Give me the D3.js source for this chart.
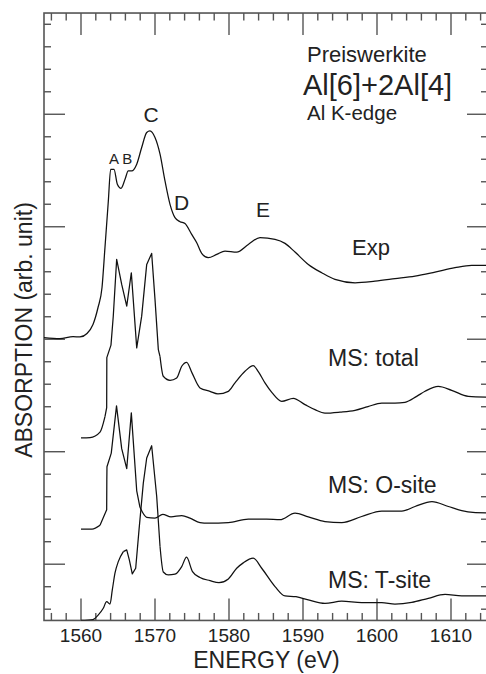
<!DOCTYPE html>
<html>
<head>
<meta charset="utf-8">
<script src="https://cdn.jsdelivr.net/npm/d3@7"></script>
<style>
  html, body { margin: 0; padding: 0; background: #fff; }
  svg text { font-family: "Liberation Sans", Arial, Helvetica, sans-serif; fill: #222; }
</style>
</head>
<body>
<svg id="chart" width="486" height="674"></svg>
<script>
// ---- data (energy in eV, absorption in arb. units; curves stacked as drawn) ----
const expEnergy = [1555.0,1557.16,1558.92,1559.86,1560.81,1561.62,1562.30,1562.84,1563.24,1563.69,1564.01,1564.46,1564.91,1565.41,1565.95,1566.39,1566.85,1567.53,1568.20,1568.88,1569.32,1570.00,1570.68,1571.35,1572.03,1572.70,1573.38,1574.05,1574.96,1575.64,1576.31,1577.20,1578.34,1579.46,1581.04,1582.61,1584.19,1586.22,1587.57,1588.92,1590.72,1592.53,1594.32,1597.03,1599.73,1602.43,1605.14,1607.84,1610.54,1612.80,1615.0];
const expValue  = [2.015,2.006,2.024,2.020,2.051,2.131,2.282,2.460,2.817,3.226,3.511,3.511,3.378,3.342,3.422,3.496,3.496,3.556,3.704,3.838,3.852,3.793,3.645,3.407,3.199,3.081,3.045,3.028,2.932,2.858,2.763,2.725,2.754,2.784,2.775,2.843,2.903,2.888,2.852,2.775,2.665,2.591,2.532,2.502,2.516,2.538,2.561,2.597,2.636,2.656,2.656];

const totalEnergy = [1560.00,1561.22,1562.57,1563.24,1563.47,1563.49,1564.05,1564.36,1564.82,1565.50,1566.18,1566.80,1567.53,1568.20,1568.88,1569.55,1570.00,1570.45,1570.68,1571.12,1572.03,1572.93,1573.61,1574.28,1575.00,1576.08,1577.43,1578.51,1579.91,1580.81,1582.16,1583.28,1583.96,1584.86,1585.81,1587.12,1588.69,1590.27,1591.62,1592.97,1595.00,1597.03,1598.78,1600.64,1602.43,1603.78,1605.36,1606.49,1608.28,1610.09,1612.34,1615.00];
const totalValue  = [1.122,1.125,1.174,1.312,1.392,1.837,1.948,2.205,2.710,2.487,2.294,2.591,1.923,2.205,2.665,2.763,2.354,1.908,1.846,1.671,1.635,1.656,1.760,1.795,1.701,1.567,1.537,1.514,1.537,1.612,1.715,1.766,1.712,1.612,1.525,1.448,1.475,1.419,1.374,1.343,1.352,1.368,1.401,1.432,1.432,1.439,1.492,1.537,1.581,1.546,1.492,1.485];

const oEnergy = [1560.00,1561.49,1562.57,1563.47,1563.49,1563.51,1564.09,1564.80,1565.50,1566.18,1566.80,1567.53,1567.97,1568.88,1570.00,1571.05,1572.16,1573.61,1574.73,1576.08,1577.20,1579.91,1582.61,1585.09,1586.89,1588.92,1590.72,1592.97,1595.23,1597.93,1600.64,1603.34,1605.14,1607.43,1609.64,1611.45,1612.97,1615.00];
const oValue  = [0.312,0.312,0.346,0.484,0.751,0.866,0.988,1.407,1.027,0.849,1.345,0.653,0.506,0.417,0.410,0.443,0.421,0.432,0.410,0.370,0.365,0.370,0.401,0.401,0.396,0.454,0.421,0.379,0.370,0.424,0.472,0.472,0.513,0.557,0.513,0.477,0.461,0.457];

const tEnergy = [1560.00,1561.62,1562.34,1563.01,1563.47,1563.92,1564.23,1564.59,1565.04,1565.72,1566.18,1566.53,1566.93,1567.39,1567.84,1568.42,1568.88,1569.55,1570.23,1570.68,1571.12,1571.80,1572.70,1573.61,1574.26,1575.07,1576.08,1577.43,1578.65,1579.91,1581.04,1581.93,1583.28,1584.42,1586.22,1587.57,1589.05,1590.72,1592.97,1595.23,1597.93,1600.64,1602.43,1604.69,1606.93,1609.19,1611.45,1615.00];
const tValue  = [-0.499,-0.492,-0.451,-0.392,-0.333,-0.354,-0.229,-0.080,0.023,0.112,0.127,0.038,-0.086,-0.036,0.305,0.721,0.944,1.053,0.602,0.157,-0.069,-0.095,-0.089,-0.021,0.062,-0.066,-0.118,-0.146,-0.164,-0.131,-0.036,0.012,0.053,-0.036,-0.199,-0.282,-0.289,-0.318,-0.349,-0.329,-0.342,-0.342,-0.354,-0.340,-0.303,-0.269,-0.282,-0.282];

const xMajorTicks = [1560,1570,1580,1590,1600,1610];
const xTickLabels = ["1560","1570","1580","1590","1600","1610"];
const yMajorTicks = [0,1,2,3,4];

const seriesNames = ["Exp","MS: total","MS: O-site","MS: T-site"];

// ---- drawing ----
const svg = d3.select("#chart");
const x = d3.scaleLinear().domain([1555, 1615]).range([44, 488]);
const y = d3.scaleLinear().domain([-0.5, 4.9]).range([620.45, 13.03]);

const defs = svg.append("defs");
defs.append("clipPath").attr("id","plotclip").append("rect")
  .attr("x", x(1555)).attr("y", y(4.9)).attr("width", x(1615)-x(1555)).attr("height", y(-0.5)-y(4.9));

const axisColor = "#555";
svg.append("rect")
  .attr("x", x(1555)).attr("y", y(4.9))
  .attr("width", x(1615)-x(1555)).attr("height", y(-0.5)-y(4.9))
  .attr("fill","none").attr("stroke",axisColor).attr("stroke-width",1.6);

// x ticks (bottom & top, inward)
const xMinor = d3.range(1556, 1615, 2).filter(v => v % 10 !== 0);
const tickG = svg.append("g").attr("stroke", axisColor).attr("stroke-width", 1.4);
function xTicks(vals, len) {
  vals.forEach(v => {
    tickG.append("line").attr("x1", x(v)).attr("x2", x(v)).attr("y1", y(-0.5)).attr("y2", y(-0.5)-len);
    tickG.append("line").attr("x1", x(v)).attr("x2", x(v)).attr("y1", y(4.9)).attr("y2", y(4.9)+len);
  });
}
xTicks(xMinor, 7.5);
xTicks(xMajorTicks, 22);

// y ticks (left & right, inward)
const yMinor = d3.range(-4, 49, 2).map(v => v/10).filter(v => Math.abs(v - Math.round(v)) > 1e-6);
function yTicks(vals, len) {
  vals.forEach(v => {
    tickG.append("line").attr("x1", x(1555)).attr("x2", x(1555)+len).attr("y1", y(v)).attr("y2", y(v));
    tickG.append("line").attr("x1", x(1615)).attr("x2", x(1615)-len).attr("y1", y(v)).attr("y2", y(v));
  });
}
yTicks(yMinor, 7);
yTicks(yMajorTicks, 21);

// x tick labels
svg.append("g").selectAll("text").data(xMajorTicks).join("text")
  .attr("x", d => x(d)).attr("y", 641.5)
  .attr("text-anchor","middle").attr("font-size", 19)
  .text((d,i) => xTickLabels[i]);

// axis titles
svg.append("text").attr("x", 266.5).attr("y", 668).attr("text-anchor","middle")
  .attr("font-size", 23).text("ENERGY (eV)");
svg.append("text").attr("transform","translate(32,330) rotate(-90)")
  .attr("text-anchor","middle").attr("font-size", 23).text("ABSORPTION (arb. unit)");

// curves: sharp (linear) segments for the computed edge peaks, smooth elsewhere
const smooth = d3.line().x(d => x(d[0])).y(d => y(d[1])).curve(d3.curveMonotoneX);
const sharp = d3.line().x(d => x(d[0])).y(d => y(d[1])).curve(d3.curveLinear);
const cg = svg.append("g").attr("clip-path","url(#plotclip)")
  .attr("fill","none").attr("stroke","#111").attr("stroke-width",1.25).attr("stroke-linejoin","round");

function drawCurve(e, v, lo, hi) {
  const pts = e.map((d,i) => [d, v[i]]);
  if (lo == null) { cg.append("path").attr("d", smooth(pts)); return; }
  const a = pts.filter(p => p[0] <= lo);
  const m = pts.filter(p => p[0] >= lo && p[0] <= hi);
  const b = pts.filter(p => p[0] >= hi);
  if (a.length > 1) cg.append("path").attr("d", smooth(a));
  cg.append("path").attr("d", sharp(m));
  cg.append("path").attr("d", smooth(b));
}
drawCurve(expEnergy, expValue, null, null);
drawCurve(totalEnergy, totalValue, 1563.24, 1570.68);
drawCurve(oEnergy, oValue, 1562.57, 1567.97);
drawCurve(tEnergy, tValue, 1565.72, 1570.68);

// annotations
const ann = svg.append("g");
ann.append("text").attr("x",307).attr("y",62).attr("font-size",22).text("Preiswerkite");
ann.append("text").attr("x",303).attr("y",95).attr("font-size",29).text("Al[6]+2Al[4]");
ann.append("text").attr("x",307).attr("y",120).attr("font-size",20.5).text("Al K-edge");
ann.append("text").attr("x",143.5).attr("y",122).attr("font-size",21).text("C");
ann.append("text").attr("x",109).attr("y",164).attr("font-size",15).text("A B");
ann.append("text").attr("x",174).attr("y",210).attr("font-size",21).text("D");
ann.append("text").attr("x",256).attr("y",217).attr("font-size",21).text("E");
ann.append("text").attr("x",352).attr("y",255).attr("font-size",22).text(seriesNames[0]);
ann.append("text").attr("x",328).attr("y",366).attr("font-size",23).text(seriesNames[1]);
ann.append("text").attr("x",328).attr("y",492.5).attr("font-size",23).text(seriesNames[2]);
ann.append("text").attr("x",328).attr("y",588).attr("font-size",23).text(seriesNames[3]);
</script>
</body>
</html>
